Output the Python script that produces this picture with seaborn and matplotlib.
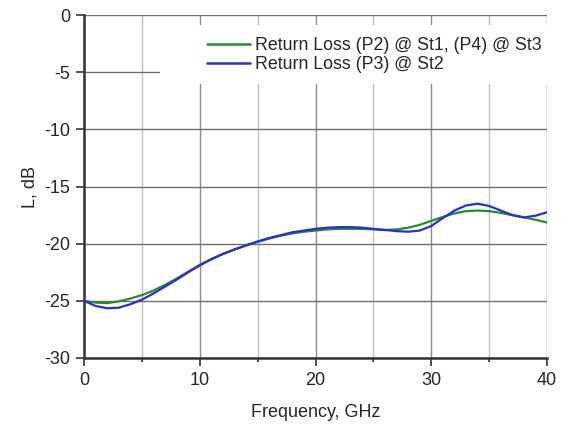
import pandas as pd
import matplotlib
matplotlib.use("Agg")
import matplotlib.pyplot as plt
import seaborn as sns
from matplotlib.ticker import MultipleLocator
from matplotlib.patches import Rectangle

# frequency points (GHz)
freq = list(range(0, 41))

# Return Loss (P2) @ St1, (P4) @ St3  -- green
rl_green = [-25.0, -25.15, -25.2, -25.05, -24.8, -24.5, -24.1, -23.6, -23.05, -22.45,
            -21.85, -21.35, -20.9, -20.5, -20.15, -19.85, -19.55, -19.3, -19.1, -18.95,
            -18.85, -18.75, -18.7, -18.7, -18.7, -18.75, -18.8, -18.75, -18.6, -18.35,
            -18.0, -17.65, -17.35, -17.15, -17.1, -17.15, -17.3, -17.5, -17.7, -17.9,
            -18.15]

# Return Loss (P3) @ St2  -- blue
rl_blue = [-25.0, -25.45, -25.65, -25.6, -25.3, -24.9, -24.35, -23.75, -23.15, -22.5,
           -21.9, -21.35, -20.9, -20.5, -20.15, -19.8, -19.5, -19.25, -19.0, -18.85,
           -18.7, -18.6, -18.55, -18.55, -18.6, -18.7, -18.8, -18.9, -18.95, -18.85,
           -18.45, -17.75, -17.1, -16.65, -16.5, -16.7, -17.1, -17.5, -17.7, -17.55,
           -17.25]

names = ["Return Loss (P2) @ St1, (P4) @ St3", "Return Loss (P3) @ St2"]

df = pd.concat([
    pd.DataFrame({"freq": freq, "L": rl_green, "series": names[0]}),
    pd.DataFrame({"freq": freq, "L": rl_blue, "series": names[1]}),
])

sns.set_style("white")
plt.rcParams['font.family'] = ['Liberation Sans', 'DejaVu Sans']
plt.rcParams['axes.unicode_minus'] = False

fig = plt.figure(figsize=(5.64, 4.28), dpi=100)
ax = fig.add_axes([0.149, 0.1636, 0.821, 0.801])

sns.lineplot(data=df, x="freq", y="L", hue="series",
             palette={names[0]: "#229022", names[1]: "#2a2ae6"},
             linewidth=1.6, ax=ax, zorder=3)

ax.set_xlim(0, 40)
ax.set_ylim(-30, 0)
ax.xaxis.set_major_locator(MultipleLocator(10))
ax.xaxis.set_minor_locator(MultipleLocator(5))
ax.yaxis.set_major_locator(MultipleLocator(5))

ax.grid(which="major", axis="x", color="#8c8c8c", linewidth=1)
ax.grid(which="minor", axis="x", color="#c0c0c0", linewidth=1)
ax.grid(which="major", axis="y", color="#6e6e6e", linewidth=1)
ax.set_axisbelow(True)

# no grid line on the frame edges (x=40, y=0)
for t in ax.xaxis.get_major_ticks():
    if abs(t.get_loc() - 40) < 1e-6:
        t.gridline.set_visible(False)
for t in ax.yaxis.get_major_ticks():
    if abs(t.get_loc()) < 1e-6:
        t.gridline.set_visible(False)

for s in ["top", "right"]:
    ax.spines[s].set_visible(False)
for s in ["left", "bottom"]:
    ax.spines[s].set_color("#333333")
    ax.spines[s].set_linewidth(1.8)

ax.tick_params(which="major", direction="out", length=6, width=1.2, pad=4,
               color="#333333", labelsize=13, bottom=True, left=True)
ax.tick_params(which="minor", direction="out", length=3, width=1.2,
               color="#333333", bottom=True)

ax.set_xlabel("Frequency, GHz", fontsize=13, labelpad=11)
ax.set_ylabel("L, dB", fontsize=13, labelpad=4)

# white box behind the legend hides the grid there
ax.add_patch(Rectangle((0.164, 0.80), 0.87, 0.171, transform=ax.transAxes,
                       facecolor="white", edgecolor="none", zorder=1.5,
                       clip_on=False))

leg = ax.legend(loc="upper left", bbox_to_anchor=(0.266, 0.936), frameon=False,
                fontsize=12.8, handlelength=2.4, handletextpad=0.3,
                borderpad=0, borderaxespad=0, labelspacing=0.12)
leg.set_title(None)
for line in leg.get_lines():
    line.set_linewidth(1.8)

fig.savefig("out.png", dpi=100)
